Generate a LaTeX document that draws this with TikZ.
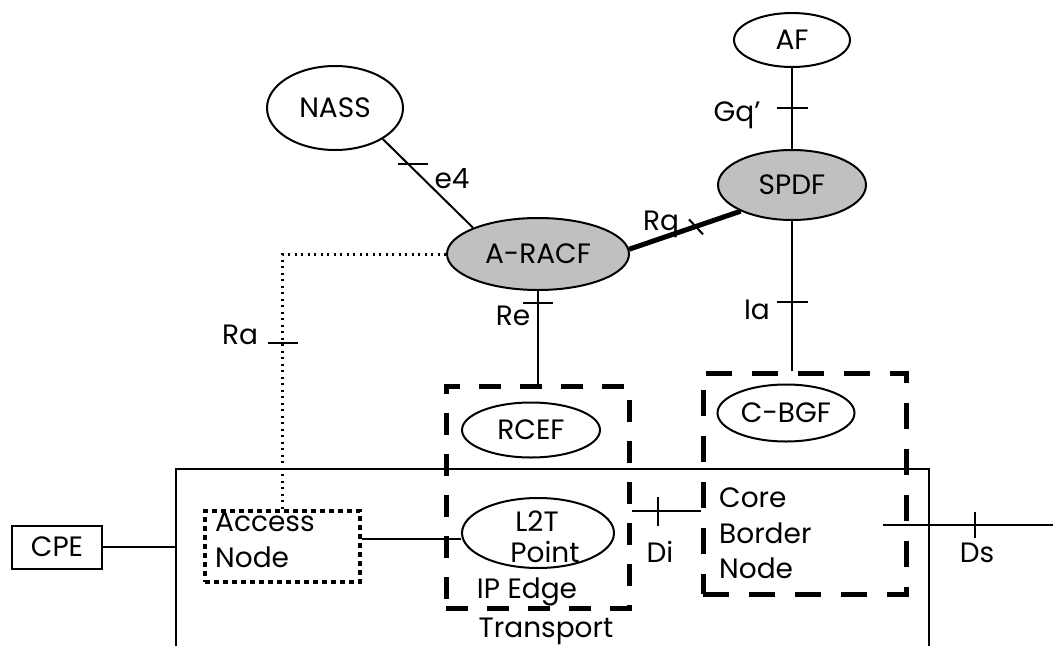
\documentclass[tikz,border=0pt]{standalone}
\usepackage{fontspec}
\setmainfont{Poppins}
\usetikzlibrary{shapes.geometric,calc}
\definecolor{shadegray}{RGB}{192,192,192}
\begin{document}
\begin{tikzpicture}[x=1pt,y=-1pt,
  every node/.style={font=\fontsize{28}{34}\selectfont},
  ell/.style={draw, ellipse, line width=2pt, inner sep=0pt},
  grayell/.style={ell, fill=shadegray},
  link/.style={line width=2pt},
  thicklink/.style={line width=5pt},
  dotlink/.style={line width=3pt, dash pattern=on 2pt off 4.5pt},
  tickmark/.style={line width=2pt},
  dbox/.style={draw, rectangle, line width=5pt, dash pattern=on 22pt off 19pt, inner sep=0pt},
  dotbox/.style={draw, rectangle, line width=4.5pt, dash pattern=on 5pt off 4pt, inner sep=0pt},
  plainbox/.style={draw, rectangle, line width=2pt, inner sep=0pt},
  lbl/.style={inner sep=0pt, anchor=base},
  lblw/.style={inner sep=0pt, anchor=base west}
]
\useasboundingbox (0,0) rectangle (1053,646);

% Transport frame
\coordinate (tl) at (176,646);
\coordinate (ttl) at (176,469);
\coordinate (ttr) at (929,469);
\coordinate (tr) at (929,646);
\draw[link] (tl) -- (ttl) -- (ttr) -- (tr);

% dashed boxes
\node[dbox, minimum width=183pt, minimum height=222pt] (RCEFbox) at (537.5,497) {};
\node[dbox, minimum width=203pt, minimum height=221pt, dash pattern=on 26pt off 20pt] (CBGFbox) at (804.5,483.5) {};
\node[dotbox, minimum width=155pt, minimum height=71pt] (AccessNode) at (282.5,546.5) {};
\node[plainbox, minimum width=90pt, minimum height=43pt] (CPE) at (57,547) {CPE};

% ellipses
\node[ell, minimum width=116pt, minimum height=54pt] (AF) at (792,40) {AF};
\node[grayell, minimum width=148pt, minimum height=70pt] (SPDF) at (792,185) {SPDF};
\node[ell, minimum width=136pt, minimum height=84pt] (NASS) at (335,108) {NASS};
\node[grayell, minimum width=182pt, minimum height=72pt] (ARACF) at (538,254) {A-RACF};
\node[ell, minimum width=138pt, minimum height=55pt] (RCEF) at (531,430) {RCEF};
\node[ell, minimum width=152pt, minimum height=70pt] (L2T) at (538,533) {};
\node[ell, minimum width=137pt, minimum height=57pt] (CBGF) at (786,413) {C-BGF};

% texts
\node[lblw] (accT) at (215,531) {Access};
\node[lblw] (accN) at (215,567) {Node};
\node[lblw] (cbn1) at (719,507) {Core};
\node[lblw] (cbn2) at (719,543) {Border};
\node[lblw] (cbn3) at (719,578) {Node};
\node[lbl] (l2t1) at (537,531) {L2T};
\node[lbl] (l2t2) at (545,562) {Point};
\node[lbl] (l2t3) at (527,598) {IP Edge};
\node[lbl] (transp) at (546,637) {Transport};

% Gq'
\draw[link] (AF.south) -- (SPDF.north);
\coordinate (gqT) at ($(AF.south)!0.49!(SPDF.north)$);
\draw[tickmark] ([shift={(-15,0)}]gqT) -- ([shift={(16,0)}]gqT);
\node[lbl] (gqL) at (737,121) {Gq'};

% e4
\coordinate (nassA) at (NASS.-33);
\coordinate (aracfA) at (ARACF.158);
\draw[link] (nassA) -- (aracfA);
\coordinate (e4T) at ($(nassA)!0.28!(aracfA)$);
\draw[tickmark] ([shift={(-10,0)}]e4T) -- ([shift={(20,0)}]e4T);
\node[lbl] (e4L) at (452,188) {e4};

% Rq
\coordinate (rqA) at (ARACF.3);
\coordinate (rqB) at (SPDF.207);
\draw[thicklink] (rqA) -- (rqB);
\coordinate (rqT) at ($(rqA)!0.6!(rqB)$);
\draw[tickmark] ([shift={(-7,-7)}]rqT) -- ([shift={(7,8)}]rqT);
\node[lbl] (rqL) at (661,230) {Rq};

% Re
\coordinate (reB) at (ARACF.south |- RCEFbox.north);
\draw[link] (ARACF.south) -- (reB);
\coordinate (reT) at ($(ARACF.south)!0.135!(reB)$);
\draw[tickmark] ([shift={(-15,0)}]reT) -- ([shift={(15,0)}]reT);
\node[lbl] (reL) at (513,325) {Re};

% Ia
\coordinate (iaB) at (SPDF.south |- CBGFbox.north);
\draw[link] (SPDF.south) -- (iaB);
\coordinate (iaT) at ($(SPDF.south)!0.54!(iaB)$);
\draw[tickmark] ([shift={(-15,0)}]iaT) -- ([shift={(16,0)}]iaT);
\node[lbl] (iaL) at (757,319) {Ia};

% Ra
\coordinate (raC) at (AccessNode.north |- ARACF.west);
\draw[dotlink] (ARACF.west) -- (raC) -- (AccessNode.north);
\coordinate (raT) at ($(raC)!0.35!(AccessNode.north)$);
\draw[tickmark] ([shift={(-15,0)}]raT) -- ([shift={(15,0)}]raT);
\node[lbl] (raL) at (240,344) {Ra};

% CPE to transport
\draw[link] (CPE.east) -- (CPE.east -| ttl);

% Access node to L2T
\coordinate (anE) at ([shift={(0,-8)}]AccessNode.east);
\draw[link] (anE) -- (anE -| L2T.west);

% Di
\coordinate (diY) at (0,511);
\coordinate (diA) at (RCEFbox.east |- diY);
\coordinate (diB) at (CBGFbox.west |- diY);
\draw[link] (diA) -- (diB);
\coordinate (diT) at ($(diA)!0.39!(diB)$);
\draw[tickmark] ([shift={(0,-14)}]diT) -- ([shift={(0,15)}]diT);
\node[lbl] (diL) at (660,562) {Di};

% Ds
\coordinate (dsA) at (883,525);
\coordinate (dsB) at (1053,525);
\draw[link] (dsA) -- (dsB);
\coordinate (dsT) at ($(dsA)!0.54!(dsB)$);
\draw[tickmark] ([shift={(0,-13)}]dsT) -- ([shift={(0,13)}]dsT);
\node[lbl] (dsL) at (977,562) {Ds};
\end{tikzpicture}
\end{document}
